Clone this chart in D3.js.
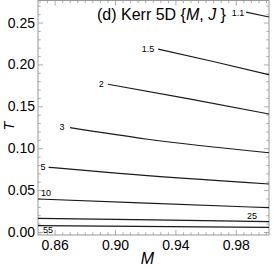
<!DOCTYPE html>
<html>
<head>
<meta charset="utf-8">
<script src="https://cdn.jsdelivr.net/npm/d3@7"></script>
<style>
  body { margin: 0; background: #fff; }
  svg { display: block; font-family: "Liberation Sans", Arial, sans-serif; }
</style>
</head>
<body>
<svg id="chart" width="274" height="270"></svg>
<script>
// contour levels and their curves
const levels = ["1.1", "1.5", "2", "3", "5", "10", "25", "55"];
const curveM = [
  [0.9868, 1.002],
  [0.9285, 0.9650, 1.002],
  [0.8954, 0.9500, 1.002],
  [0.8702, 0.9205, 1.002],
  [0.8560, 0.9027, 1.002],
  [0.849, 0.9166, 1.002],
  [0.849, 0.9255, 1.002],
  [0.849, 1.002]
];
const curveT = [
  [0.2625, 0.2566],
  [0.2184, 0.2035, 0.1877],
  [0.1763, 0.1585, 0.1408],
  [0.1245, 0.1110, 0.0946],
  [0.0772, 0.0700, 0.0573],
  [0.0394, 0.0348, 0.0290],
  [0.01635, 0.0144, 0.0123],
  [0.0075, 0.0056]
];
// where each level label sits
const labelM = [0.9815, 0.9219, 0.8909, 0.8649, 0.8523, 0.8543, 0.9908, 0.8556];
const labelT = [0.2619, 0.2184, 0.1766, 0.1253, 0.0776, 0.0465, 0.0191, 0.0024];

const xTicks = [0.86, 0.90, 0.94, 0.98];
const yTicks = [0.00, 0.05, 0.10, 0.15, 0.20, 0.25];

const svg = d3.select("#chart");
const L = 38, R = 269, T0 = 0.5, B = 235;

const x = d3.scaleLinear().domain([0.849, 1.002]).range([L, R]);
const y = d3.scaleLinear().domain([-0.0036, 0.2763]).range([B, T0]);

const xMinor = d3.range(0.85, 1.0021, 0.005).filter(v => !xTicks.some(t => Math.abs(t - v) < 1e-6));
const yMinor = d3.range(0, 0.2761, 0.01).filter(v => !yTicks.some(t => Math.abs(t - v) < 1e-6));

const tickCol = "#999";

function styleAxis(g){
  g.select(".domain").remove();
  g.selectAll("line").attr("stroke", tickCol).attr("stroke-width", 0.8);
  g.selectAll("text").attr("fill", "#000").style("font-size", "14px")
    .style("font-family", '"Liberation Sans", Arial, sans-serif');
}

// major + minor ticks on all four sides, pointing inward
svg.append("g").attr("transform", `translate(0,${B})`)
  .call(d3.axisBottom(x).tickValues(xTicks).tickSize(-5).tickPadding(5).tickFormat(d3.format(".2f")))
  .call(styleAxis);
svg.append("g").attr("transform", `translate(0,${B})`)
  .call(d3.axisBottom(x).tickValues(xMinor).tickSize(-2.7).tickFormat(""))
  .call(styleAxis);
svg.append("g").attr("transform", `translate(0,${T0})`)
  .call(d3.axisTop(x).tickValues(xTicks).tickSize(-5).tickFormat(""))
  .call(styleAxis);
svg.append("g").attr("transform", `translate(0,${T0})`)
  .call(d3.axisTop(x).tickValues(xMinor).tickSize(-2.7).tickFormat(""))
  .call(styleAxis);

svg.append("g").attr("transform", `translate(${L},0)`)
  .call(d3.axisLeft(y).tickValues(yTicks).tickSize(-5).tickPadding(3).tickFormat(d3.format(".2f")))
  .call(styleAxis);
svg.append("g").attr("transform", `translate(${L},0)`)
  .call(d3.axisLeft(y).tickValues(yMinor).tickSize(-2.7).tickFormat(""))
  .call(styleAxis);
svg.append("g").attr("transform", `translate(${R},0)`)
  .call(d3.axisRight(y).tickValues(yTicks).tickSize(-5).tickFormat(""))
  .call(styleAxis);
svg.append("g").attr("transform", `translate(${R},0)`)
  .call(d3.axisRight(y).tickValues(yMinor).tickSize(-2.7).tickFormat(""))
  .call(styleAxis);

// frame
svg.append("rect")
  .attr("x", L).attr("y", T0).attr("width", R - L).attr("height", B - T0)
  .attr("fill", "none").attr("stroke", tickCol).attr("stroke-width", 1);

// contour lines
const line = d3.line().x(d => x(d[0])).y(d => y(d[1])).curve(d3.curveMonotoneX);
svg.append("g").selectAll("path")
  .data(levels.map((lv, i) => curveM[i].map((m, j) => [m, curveT[i][j]])))
  .join("path")
  .attr("d", line)
  .attr("fill", "none")
  .attr("stroke", "#1a1a1a")
  .attr("stroke-width", 1.2);

svg.append("g").selectAll("text")
  .data(levels)
  .join("text")
  .attr("x", (d, i) => x(labelM[i]))
  .attr("y", (d, i) => y(labelT[i]))
  .attr("dy", "0.35em")
  .attr("text-anchor", "middle")
  .style("font-size", "9px")
  .text(d => d);

// title
const title = svg.append("text").attr("x", 97).attr("y", 19.5).style("font-size", "16px");
title.append("tspan").text("(d) Kerr 5D {");
title.append("tspan").style("font-style", "italic").text("M");
title.append("tspan").text(", ");
title.append("tspan").style("font-style", "italic").text("J");
title.append("tspan").text(" }");

// axis labels
svg.append("text")
  .attr("x", 147.5).attr("y", 263.5)
  .attr("text-anchor", "middle")
  .style("font-size", "16px").style("font-style", "italic")
  .text("M");
svg.append("text")
  .attr("transform", "translate(13.5,126) rotate(-90)")
  .attr("text-anchor", "middle")
  .style("font-size", "14.5px").style("font-style", "italic")
  .text("T");
</script>
</body>
</html>
